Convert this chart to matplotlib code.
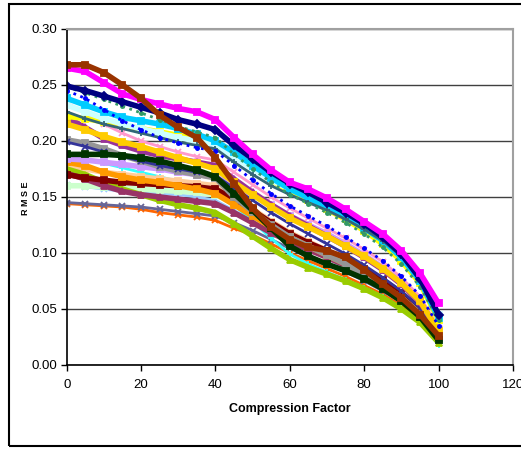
import matplotlib
matplotlib.use('Agg')
import matplotlib.pyplot as plt
from matplotlib.patches import Rectangle

plt.rcParams['font.family'] = ['Liberation Sans Narrow', 'Liberation Sans', 'DejaVu Sans']

# compression factor, read every 5 units
factor = [0, 5, 10, 15, 20, 25, 30, 35, 40, 45, 50, 55, 60, 65, 70, 75, 80, 85, 90, 95, 100]

# RMSE curves (one per image)
rmse_a = [0.265, 0.262, 0.252, 0.242, 0.237, 0.233, 0.229, 0.226, 0.219, 0.203, 0.188, 0.174, 0.163, 0.157, 0.149, 0.139, 0.128, 0.117, 0.102, 0.082, 0.055]
rmse_b = [0.268, 0.268, 0.261, 0.250, 0.238, 0.223, 0.212, 0.203, 0.185, 0.162, 0.140, 0.123, 0.112, 0.105, 0.102, 0.096, 0.085, 0.072, 0.060, 0.045, 0.026]
rmse_c = [0.249, 0.245, 0.240, 0.235, 0.230, 0.225, 0.219, 0.215, 0.210, 0.196, 0.184, 0.172, 0.162, 0.154, 0.145, 0.136, 0.126, 0.114, 0.099, 0.077, 0.045]
rmse_d = [0.248, 0.243, 0.237, 0.231, 0.225, 0.219, 0.213, 0.208, 0.203, 0.188, 0.175, 0.163, 0.152, 0.144, 0.136, 0.127, 0.117, 0.105, 0.090, 0.070, 0.040]
rmse_e = [0.245, 0.238, 0.228, 0.218, 0.210, 0.203, 0.198, 0.194, 0.191, 0.178, 0.165, 0.153, 0.142, 0.133, 0.124, 0.114, 0.104, 0.093, 0.079, 0.062, 0.035]
rmse_f = [0.238, 0.232, 0.226, 0.221, 0.218, 0.215, 0.211, 0.206, 0.200, 0.190, 0.178, 0.167, 0.157, 0.149, 0.141, 0.132, 0.122, 0.111, 0.096, 0.075, 0.042]
rmse_g = [0.226, 0.220, 0.215, 0.211, 0.207, 0.203, 0.199, 0.196, 0.193, 0.181, 0.170, 0.160, 0.152, 0.145, 0.138, 0.130, 0.121, 0.111, 0.097, 0.078, 0.042]
rmse_h = [0.232, 0.226, 0.220, 0.215, 0.211, 0.207, 0.203, 0.200, 0.197, 0.186, 0.175, 0.165, 0.157, 0.150, 0.143, 0.135, 0.125, 0.114, 0.099, 0.079, 0.045]
rmse_i = [0.234, 0.225, 0.215, 0.207, 0.200, 0.195, 0.190, 0.186, 0.183, 0.172, 0.161, 0.150, 0.140, 0.131, 0.122, 0.113, 0.103, 0.092, 0.078, 0.061, 0.033]
rmse_j = [0.222, 0.220, 0.217, 0.214, 0.211, 0.208, 0.205, 0.202, 0.198, 0.187, 0.176, 0.165, 0.155, 0.147, 0.139, 0.130, 0.120, 0.108, 0.093, 0.073, 0.040]
rmse_k = [0.221, 0.212, 0.202, 0.196, 0.191, 0.187, 0.184, 0.181, 0.178, 0.166, 0.154, 0.143, 0.133, 0.124, 0.115, 0.106, 0.096, 0.085, 0.072, 0.056, 0.030]
rmse_l = [0.215, 0.210, 0.204, 0.199, 0.195, 0.190, 0.185, 0.180, 0.175, 0.163, 0.152, 0.141, 0.131, 0.123, 0.115, 0.106, 0.097, 0.086, 0.073, 0.057, 0.030]
rmse_m = [0.201, 0.198, 0.193, 0.187, 0.182, 0.177, 0.173, 0.170, 0.167, 0.150, 0.137, 0.125, 0.114, 0.106, 0.098, 0.090, 0.081, 0.071, 0.060, 0.046, 0.024]
rmse_n = [0.199, 0.195, 0.190, 0.186, 0.182, 0.178, 0.175, 0.172, 0.169, 0.158, 0.147, 0.136, 0.126, 0.117, 0.108, 0.099, 0.089, 0.078, 0.066, 0.051, 0.026]
rmse_o = [0.188, 0.188, 0.188, 0.187, 0.185, 0.182, 0.178, 0.174, 0.168, 0.153, 0.138, 0.122, 0.106, 0.097, 0.090, 0.084, 0.077, 0.068, 0.057, 0.043, 0.022]
rmse_p = [0.184, 0.183, 0.181, 0.179, 0.177, 0.175, 0.172, 0.170, 0.168, 0.160, 0.152, 0.143, 0.133, 0.125, 0.117, 0.108, 0.098, 0.087, 0.074, 0.058, 0.031]
rmse_q = [0.181, 0.178, 0.172, 0.168, 0.165, 0.163, 0.160, 0.157, 0.153, 0.143, 0.133, 0.123, 0.114, 0.106, 0.098, 0.090, 0.081, 0.071, 0.060, 0.046, 0.024]
rmse_r = [0.178, 0.175, 0.172, 0.170, 0.168, 0.166, 0.164, 0.162, 0.160, 0.150, 0.139, 0.128, 0.118, 0.110, 0.102, 0.093, 0.084, 0.074, 0.062, 0.048, 0.025]
rmse_s = [0.175, 0.170, 0.163, 0.157, 0.152, 0.147, 0.143, 0.140, 0.136, 0.126, 0.115, 0.104, 0.094, 0.087, 0.081, 0.075, 0.068, 0.060, 0.050, 0.038, 0.020]
rmse_t = [0.170, 0.167, 0.165, 0.163, 0.162, 0.161, 0.160, 0.159, 0.157, 0.148, 0.138, 0.127, 0.117, 0.109, 0.102, 0.094, 0.086, 0.076, 0.064, 0.050, 0.027]
rmse_u = [0.171, 0.166, 0.160, 0.155, 0.152, 0.150, 0.148, 0.146, 0.144, 0.136, 0.127, 0.118, 0.110, 0.103, 0.096, 0.089, 0.080, 0.071, 0.060, 0.046, 0.024]
rmse_v = [0.160, 0.160, 0.159, 0.158, 0.157, 0.156, 0.155, 0.154, 0.152, 0.144, 0.135, 0.125, 0.116, 0.108, 0.100, 0.092, 0.083, 0.073, 0.061, 0.047, 0.024]
rmse_w = [0.161, 0.159, 0.157, 0.155, 0.154, 0.153, 0.152, 0.150, 0.147, 0.138, 0.129, 0.120, 0.111, 0.103, 0.095, 0.087, 0.078, 0.068, 0.057, 0.044, 0.022]
rmse_x = [0.145, 0.144, 0.143, 0.142, 0.141, 0.139, 0.137, 0.135, 0.133, 0.127, 0.120, 0.112, 0.104, 0.097, 0.090, 0.083, 0.075, 0.066, 0.056, 0.043, 0.021]
rmse_y = [0.144, 0.143, 0.142, 0.141, 0.139, 0.136, 0.134, 0.132, 0.129, 0.122, 0.116, 0.108, 0.100, 0.093, 0.086, 0.079, 0.071, 0.063, 0.053, 0.041, 0.020]
rmse_z = [0.185, 0.183, 0.180, 0.176, 0.172, 0.168, 0.164, 0.160, 0.156, 0.143, 0.128, 0.113, 0.099, 0.090, 0.083, 0.076, 0.069, 0.061, 0.051, 0.038, 0.018]

# draw order: bottom of the pile first
series = [
    (rmse_y, '#FF6600', 'x'),
    (rmse_x, '#666699', 'x'),
    (rmse_w, '#99CCFF', 'x'),
    (rmse_v, '#CCFFCC', 's'),
    (rmse_z, '#33FFFF', '+'),
    (rmse_r, '#FFCC99', 's'),
    (rmse_s, '#99CC00', '^'),
    (rmse_u, '#993366', '^'),
    (rmse_t, '#800000', 's'),
    (rmse_q, '#FF9900', 's'),
    (rmse_p, '#CC99FF', 's'),
    (rmse_m, '#969696', 's'),
    (rmse_n, '#333399', 'x'),
    (rmse_i, '#FF99CC', 'x'),
    (rmse_k, '#993399', '^'),
    (rmse_l, '#FFCC00', 's'),
    (rmse_o, '#003300', 's'),
    (rmse_j, '#FFFF00', 's'),
    (rmse_h, '#CCFFFF', 's'),
    (rmse_f, '#00CCFF', 's'),
    (rmse_g, '#336677', '+'),
    (rmse_d, '#339966', '.'),
    (rmse_e, '#0000FF', '.'),
    (rmse_c, '#000080', 'D'),
    (rmse_a, '#FF00FF', 's'),
    (rmse_b, '#993300', 's'),
]

fig = plt.figure(figsize=(5.21, 4.5), dpi=100)
ax = fig.add_axes([0.128, 0.189, 0.8566, 0.7467])

for vals, col, mk in series:
    thin = mk in ('.', '+', 'x')
    ax.plot(factor, vals, color=col, lw=2.0 if thin else 4.0,
            ls=':' if mk == '.' else '-', marker=mk, ms=4.5 if thin else 4,
            mew=1.3, solid_capstyle='butt', solid_joinstyle='miter')

ax.set_xlim(0, 120)
ax.set_ylim(0, 0.30)
ax.set_xticks(range(0, 121, 20))
ax.set_yticks([0, 0.05, 0.10, 0.15, 0.20, 0.25, 0.30])
ax.set_yticklabels(['0.00', '0.05', '0.10', '0.15', '0.20', '0.25', '0.30'])
ax.yaxis.grid(True, color='#404040', lw=1)
ax.set_axisbelow(True)
ax.tick_params(labelsize=9.5, direction='out', length=4, width=1, color='black')
ax.tick_params(axis='y', pad=3)
ax.tick_params(axis='x', pad=6)
for side in ('top', 'right'):
    ax.spines[side].set_color('#A0A0A0')
    ax.spines[side].set_linewidth(1.5)
for side in ('left', 'bottom'):
    ax.spines[side].set_color('black')
    ax.spines[side].set_linewidth(1.2)

ax.set_xlabel('Compression Factor', fontsize=9, fontweight='bold', labelpad=9)
fig.text(26 / 521, 1 - 198 / 450, 'R M S E', rotation=90, fontsize=6.5,
         fontweight='bold', ha='center', va='center')

# outer chart frame
fig.patches.append(Rectangle((9 / 521, 4 / 450), 1.2, 442 / 450,
                             transform=fig.transFigure, fill=False,
                             edgecolor='black', lw=1.5))

fig.savefig('out.png', dpi=100)
